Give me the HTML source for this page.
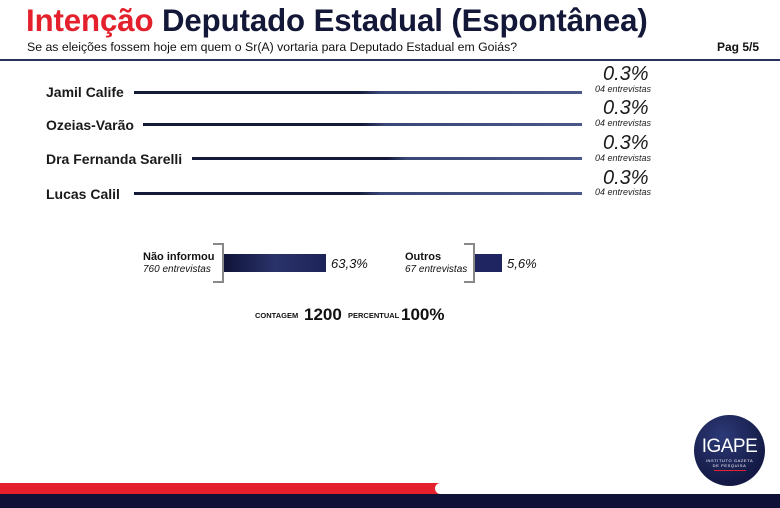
<!DOCTYPE html>
<html><head><meta charset="utf-8"><style>
*{margin:0;padding:0;box-sizing:border-box}
body{width:780px;height:508px;background:#fff;position:relative;overflow:hidden;font-family:"Liberation Sans",Arial,sans-serif;color:#111}
.a{position:absolute;white-space:nowrap}
.name{font-size:14px;font-weight:bold;color:#1a1a1a}
.ln{position:absolute;height:3px;background:linear-gradient(90deg,#141a3a 0%,#141a3a 50%,#3a4677 55%,#4a5788 100%)}
.pct{font-size:20px;font-style:italic;color:#1a1a1a}
.ent{font-size:9px;font-style:italic;color:#222}
</style></head><body>
<div class="a" style="left:26px;top:3px;font-size:31.2px;font-weight:bold;color:#141838;letter-spacing:-0.1px"><span style="color:#e3202b">Intenção</span> Deputado Estadual (Espontânea)</div>
<div class="a" style="left:27px;top:40px;font-size:12.3px;color:#111">Se as eleições fossem hoje em quem o Sr(A) vortaria para Deputado Estadual em Goiás?</div>
<div class="a" style="left:717px;top:40px;font-size:12px;font-weight:bold;color:#111">Pag 5/5</div>
<div class="a" style="left:0;top:59px;width:780px;height:2px;background:#2a3060"></div>

<div class="a name" style="left:46px;top:84px">Jamil Calife</div>
<div class="ln" style="left:134px;top:91px;width:448px"></div>
<div class="a pct" style="left:603px;top:63px">0.3%</div>
<div class="a ent" style="left:595px;top:84px">04 entrevistas</div>

<div class="a name" style="left:46px;top:117px">Ozeias-Varão</div>
<div class="ln" style="left:143px;top:123px;width:439px"></div>
<div class="a pct" style="left:603px;top:97px">0.3%</div>
<div class="a ent" style="left:595px;top:118px">04 entrevistas</div>

<div class="a name" style="left:46px;top:151px">Dra Fernanda Sarelli</div>
<div class="ln" style="left:192px;top:157px;width:390px"></div>
<div class="a pct" style="left:603px;top:132px">0.3%</div>
<div class="a ent" style="left:595px;top:153px">04 entrevistas</div>

<div class="a name" style="left:46px;top:186px">Lucas Calil</div>
<div class="ln" style="left:134px;top:192px;width:448px"></div>
<div class="a pct" style="left:603px;top:167px">0.3%</div>
<div class="a ent" style="left:595px;top:187px">04 entrevistas</div>

<div class="a" style="left:143px;top:251px;font-size:11px;font-weight:bold">Não informou</div>
<div class="a" style="left:143px;top:264px;font-size:10px;font-style:italic">760 entrevistas</div>
<div class="a" style="left:213px;top:243px;width:11px;height:40px;border:2px solid #888;border-left:none"></div>
<div class="a" style="left:224px;top:254px;width:102px;height:18px;background:linear-gradient(90deg,#10143a,#2a336a 50%,#1c2358)"></div>
<div class="a" style="left:331px;top:256px;font-size:13px;font-style:italic">63,3%</div>

<div class="a" style="left:405px;top:251px;font-size:11px;font-weight:bold">Outros</div>
<div class="a" style="left:405px;top:264px;font-size:10px;font-style:italic">67 entrevistas</div>
<div class="a" style="left:464px;top:243px;width:11px;height:40px;border:2px solid #888;border-left:none"></div>
<div class="a" style="left:475px;top:254px;width:27px;height:18px;background:#1e2560"></div>
<div class="a" style="left:507px;top:256px;font-size:13px;font-style:italic">5,6%</div>

<div class="a" style="left:255px;top:311px;font-size:7.5px;font-weight:bold">CONTAGEM</div>
<div class="a" style="left:304px;top:305px;font-size:17px;font-weight:bold">1200</div>
<div class="a" style="left:348px;top:311px;font-size:7.5px;font-weight:bold">PERCENTUAL</div>
<div class="a" style="left:401px;top:305px;font-size:17px;font-weight:bold">100%</div>

<div class="a" style="left:694px;top:415px;width:71px;height:71px;border-radius:50%;background:radial-gradient(circle at 40% 30%,#2d3a78,#141a45 70%)"></div>
<div class="a" style="left:696px;top:436px;width:67px;text-align:center;font-size:19px;color:#fff;letter-spacing:-0.5px">IGAPE</div>
<div class="a" style="left:696px;top:458px;width:67px;text-align:center;font-size:4px;color:#fff;letter-spacing:0.6px;line-height:5px">INSTITUTO GAZETA<br>DE PESQUISA</div>
<div class="a" style="left:714px;top:470px;width:32px;height:1px;background:#e3202b"></div>

<div class="a" style="left:0;top:483px;width:440px;height:11px;background:#e3202b"></div>
<div class="a" style="left:435px;top:483px;width:60px;height:11px;border-radius:6px 0 0 6px;background:#fff"></div>
<div class="a" style="left:0;top:494px;width:780px;height:14px;background:#0f1236"></div>
</body></html>
